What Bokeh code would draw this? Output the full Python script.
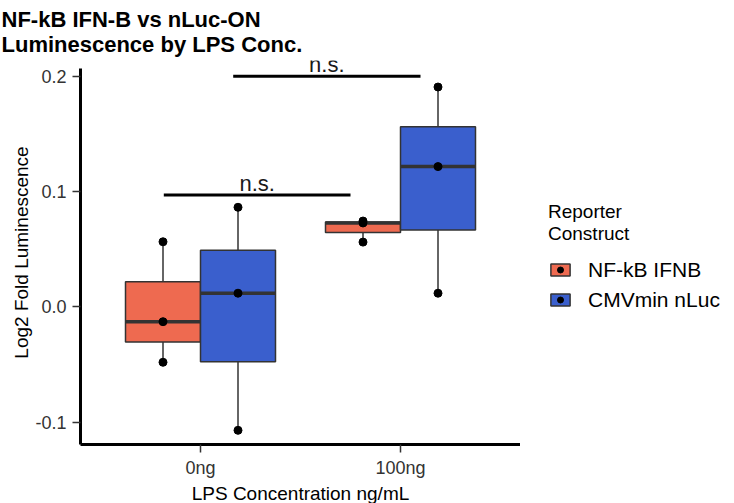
import numpy as np
from bokeh.plotting import figure
from bokeh.layouts import row
from bokeh.models import (ColumnDataSource, Legend, LegendItem, FixedTicker,
                          Range1d, LabelSet, PrintfTickFormatter)
from bokeh.core.properties import value
from bokeh.embed import file_html
from bokeh.resources import INLINE

# ---------------- data ----------------
concentrations = ["0ng", "100ng"]
constructs = ["NF-kB IFNB", "CMVmin nLuc"]
colors = ["#EE6A50", "#3A5FCD"]

ifnb_0ng = [-0.048, -0.0128, 0.0565]
ifnb_100ng = [0.0562, 0.0728, 0.0745]
nluc_0ng = [-0.107, 0.0119, 0.0864]
nluc_100ng = [0.0119, 0.1217, 0.1907]

sig_labels = ["n.s.", "n.s."]
sig_xmin = [0.8165, 1.1635]
sig_xmax = [1.75, 2.1]
sig_y = [0.097, 0.2]

groups = [[ifnb_0ng, ifnb_100ng], [nluc_0ng, nluc_100ng]]

# ---------------- styling ----------------
FONT = "Liberation Sans"
DODGE = [-0.1875, 0.1875]
BOX_W = 0.375
EDGE = "#333333"
Y_LOW, Y_AXIS_TOP, Y_HIGH = -0.1193, 0.2067, 0.2137

p = figure(frame_width=440, frame_height=384,
           x_range=Range1d(0.4, 2.6), y_range=Range1d(Y_LOW, Y_HIGH),
           output_backend="svg", toolbar_location=None,
           min_border_left=80, min_border_right=0,
           min_border_top=60, min_border_bottom=59)

p.title.text = "NF-kB IFN-B vs nLuc-ON\nLuminescence by LPS Conc."
p.title.text_font = FONT
p.title.text_font_size = "22px"
p.title.text_font_style = "bold"
p.title.standoff = 7
p.title.align = "left"
p.title.offset = -79
p.title.text_color = "black"

p.xgrid.visible = False
p.ygrid.visible = False
p.outline_line_color = None
p.background_fill_color = "white"

for k in range(len(constructs)):
    vals = groups[k]
    xs = [i + 1 + DODGE[k] for i in range(len(concentrations))]
    q1 = [float(np.percentile(v, 25)) for v in vals]
    med = [float(np.percentile(v, 50)) for v in vals]
    q3 = [float(np.percentile(v, 75)) for v in vals]
    lo = [float(np.min(v)) for v in vals]
    hi = [float(np.max(v)) for v in vals]
    src = ColumnDataSource(dict(x=xs, q1=q1, med=med, q3=q3, lo=lo, hi=hi,
                                xl=[x - BOX_W / 2 for x in xs],
                                xr=[x + BOX_W / 2 for x in xs]))
    p.segment(x0="x", y0="lo", x1="x", y1="q1", source=src,
              line_color=EDGE, line_width=1.5)
    p.segment(x0="x", y0="q3", x1="x", y1="hi", source=src,
              line_color=EDGE, line_width=1.5)
    p.vbar(x="x", width=BOX_W, bottom="q1", top="q3", source=src,
           fill_color=colors[k], line_color=EDGE, line_width=1.5)
    p.segment(x0="xl", y0="med", x1="xr", y1="med", source=src,
              line_color=EDGE, line_width=3.5)
    px = []
    py = []
    for i, v in enumerate(vals):
        px += [xs[i]] * len(v)
        py += list(v)
    p.scatter(x=px, y=py, marker="circle", size=8,
              fill_color="black", line_color="black")

# significance bars
sig_src = ColumnDataSource(dict(x0=sig_xmin, x1=sig_xmax, y=sig_y,
                                xc=[(a + b) / 2 for a, b in zip(sig_xmin, sig_xmax)],
                                text=sig_labels))
p.segment(x0="x0", y0="y", x1="x1", y1="y", source=sig_src,
          line_color="black", line_width=3)
p.add_layout(LabelSet(x="xc", y="y", text="text", source=sig_src,
                      text_align="center", text_baseline="alphabetic",
                      y_offset=4, text_font=value(FONT), text_font_size=value("22px"),
                      text_color="#1a1a1a"))

# axes
p.xaxis.ticker = FixedTicker(ticks=[i + 1 for i in range(len(concentrations))])
p.xaxis.major_label_overrides = {i + 1: c for i, c in enumerate(concentrations)}
p.yaxis.ticker = FixedTicker(ticks=[-0.1, 0.0, 0.1, 0.2])
p.yaxis.formatter = PrintfTickFormatter(format="%.1f")
p.yaxis.bounds = (Y_LOW, Y_AXIS_TOP)
p.xaxis.axis_label = "LPS Concentration ng/mL"
p.yaxis.axis_label = "Log2 Fold Luminescence"
for ax in (p.xaxis[0], p.yaxis[0]):
    ax.axis_line_width = 3
    ax.axis_line_color = "black"
    ax.major_tick_line_color = EDGE
    ax.major_tick_line_width = 1.5
    ax.major_tick_out = 8
    ax.major_tick_in = 0
    ax.minor_tick_line_color = None
    ax.major_label_text_font = FONT
    ax.major_label_text_font_size = "18px"
    ax.major_label_text_color = "#333333"
    ax.axis_label_text_font = FONT
    ax.axis_label_text_font_size = "19px"
    ax.axis_label_text_font_style = "normal"
    ax.axis_label_text_color = "black"
p.xaxis.major_label_standoff = 5
p.xaxis.axis_label_standoff = 2
p.yaxis.major_label_standoff = 6
p.yaxis.axis_label_standoff = 0

# legend panel (separate legend-only figure to the right)
lf = figure(width=214, height=503, x_range=Range1d(0, 1), y_range=Range1d(0, 1),
            x_axis_type=None, y_axis_type=None, output_backend="svg",
            toolbar_location=None, min_border=0)
lf.outline_line_color = None
lf.xgrid.visible = False
lf.ygrid.visible = False
nan = float("nan")
items = []
for k in range(len(constructs)):
    b = lf.vbar(x=[nan], width=0.1, bottom=[nan], top=[nan], fill_color=colors[k],
                line_color=EDGE, line_width=1.5)
    s = lf.scatter(x=[nan], y=[nan], marker="circle", size=8,
                   fill_color="black", line_color="black")
    items.append(LegendItem(label=constructs[k], renderers=[b, s]))

legend = Legend(items=items, location=(28, 129.5),
                title="Reporter\nConstruct",
                title_text_font=FONT, title_text_font_size="19px",
                title_text_font_style="normal", title_text_color="black",
                title_text_line_height=1.07,
                title_standoff=13,
                label_text_font=FONT, label_text_font_size="21px",
                label_text_color="black",
                glyph_width=24, glyph_height=15, label_standoff=16,
                spacing=6, padding=0, margin=0,
                border_line_color=None, background_fill_alpha=0)
lf.add_layout(legend)

layout = row(p, lf)
open("out.html", "w").write(file_html(layout, INLINE))
